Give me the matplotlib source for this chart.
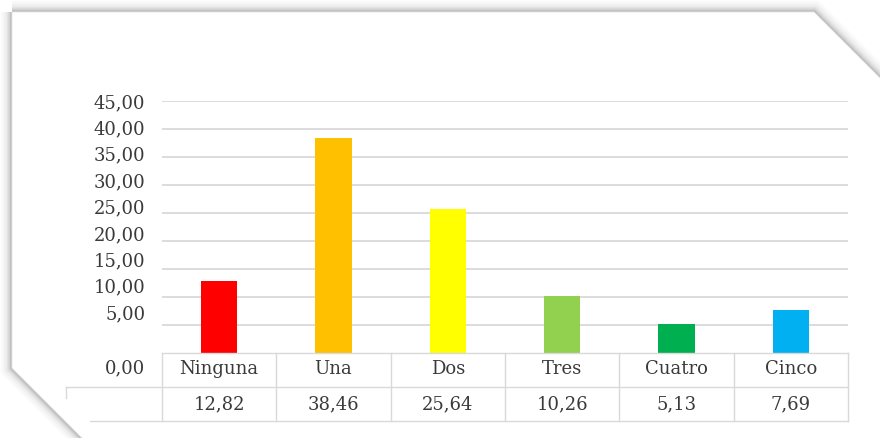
"""Bar chart with an Excel-style data table underneath (number of items)."""

import matplotlib

matplotlib.use("Agg")
import matplotlib.pyplot as plt
from matplotlib.patches import Polygon
from matplotlib.transforms import blended_transform_factory

categories = ["Ninguna", "Una", "Dos", "Tres", "Cuatro", "Cinco"]
values = [12.82, 38.46, 25.64, 10.26, 5.13, 7.69]
value_labels = ["12,82", "38,46", "25,64", "10,26", "5,13", "7,69"]
bar_colors = ["#FF0000", "#FFC000", "#FFFF00", "#92D050", "#00B050", "#00B0F0"]
grid_values = [5, 10, 15, 20, 25, 30, 35, 40, 45]
tick_labels = ["5,00", "10,00", "15,00", "20,00", "25,00", "30,00", "35,00", "40,00", "45,00"]

W, H = 880, 438
TEXT = "#3A3A3A"
LINE = "#D9D9D9"
FS = 13

plt.rcParams["font.family"] = ["DejaVu Serif"]

fig = plt.figure(figsize=(W / 100, H / 100), dpi=100)
fig.patch.set_facecolor("white")


def px(x, y):
    """pixel coords (origin top-left) -> figure fraction"""
    return (x / W, 1 - y / H)


# panel with cut corners and a soft shadow (kept below the axes)
panel = [px(12, 12), px(814, 12), px(960, 158), px(960, 520), px(164, 520), px(12, 368)]
for lw, a in [(16, 0.025), (12, 0.035), (8, 0.05), (5, 0.07), (2.5, 0.10)]:
    fig.patches.append(Polygon(panel, closed=True, transform=fig.transFigure,
                               facecolor="none", edgecolor="black", linewidth=lw,
                               alpha=a, joinstyle="miter", zorder=-3))
fig.patches.append(Polygon(panel, closed=True, transform=fig.transFigure,
                           facecolor="white", edgecolor="#E6E6E6", linewidth=0.6,
                           zorder=-1))

left, right = 162 / W, 848 / W
bottom, top = 1 - 353 / H, 1 - 101 / H
ax = fig.add_axes([left, bottom, right - left, top - bottom])
ax.set_facecolor("none")

n = len(categories)
xs = list(range(n))
ax.set_xlim(-0.5, n - 0.5)
ax.set_ylim(0, 45)

for g in grid_values:
    ax.axhline(g, color=LINE, linewidth=1.3, zorder=1)

ax.bar(xs, values, width=0.32, color=bar_colors, zorder=2)

for s in ax.spines.values():
    s.set_visible(False)

# Excel spaces the axis labels a touch tighter than the gridlines
label_pos = [45 - (45 - v) * 0.943 for v in grid_values]
ax.set_yticks(label_pos, tick_labels)
ax.set_xticks([])
ax.tick_params(axis="y", length=0, pad=12, labelsize=FS, labelcolor=TEXT)

# data table under the plot
tr = blended_transform_factory(ax.transData, ax.transAxes)
ax_h = 353 - 101
row1 = -34 / ax_h
row2 = -68 / ax_h

line_kw = dict(color=LINE, linewidth=1.0, clip_on=False, zorder=3)
ax.plot([-0.5, n - 0.5], [0, 0], transform=tr, **line_kw)
for i in range(n + 1):
    ax.plot([i - 0.5, i - 0.5], [0, row2], transform=tr, **line_kw)

fig_kw = dict(color=LINE, linewidth=1.0, transform=fig.transFigure, zorder=3)
fig.add_artist(plt.Line2D([66 / W, 848 / W], [1 - 387 / H, 1 - 387 / H], **fig_kw))
fig.add_artist(plt.Line2D([90 / W, 848 / W], [1 - 421 / H, 1 - 421 / H], **fig_kw))
fig.add_artist(plt.Line2D([66 / W, 66 / W], [1 - 387 / H, 1 - 398 / H], **fig_kw))

for i, (cat, lab) in enumerate(zip(categories, value_labels)):
    ax.text(i, row1 / 2 + 0.005, cat, transform=tr, ha="center", va="center",
            fontsize=FS, color=TEXT)
    ax.text(i, (row1 + row2) / 2, lab, transform=tr, ha="center", va="center",
            fontsize=FS, color=TEXT)

fig.text(145 / W, 1 - 368 / H, "0,00", ha="right", va="center", fontsize=FS,
         color=TEXT)

fig.savefig("out.png", dpi=100)
